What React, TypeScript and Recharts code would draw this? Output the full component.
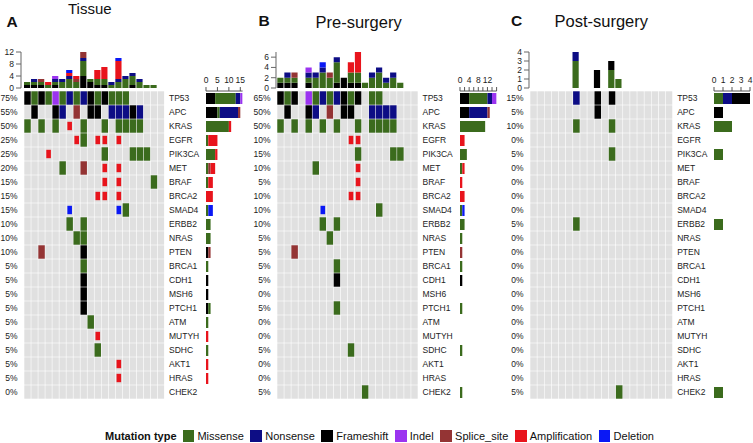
import { BarChart, Bar, XAxis, YAxis, ScatterChart, Scatter } from 'recharts'

// mutation classes, column order used by every count row below: [M, N, F, I, S, A, D]
const TYPES = ['Missense', 'Nonsense', 'Frameshift', 'Indel', 'Splice_site', 'Amplification', 'Deletion']
const CODES = ['M', 'N', 'F', 'I', 'S', 'A', 'D']

const COLORS: Record<string, string> = {
  Missense: '#3b6b1d',
  Nonsense: '#0d0d85',
  Frameshift: '#000000',
  Indel: '#9b34f0',
  Splice_site: '#943434',
  Amplification: '#e8141c',
  Deletion: '#0a18f5',
}

const GENES = [
  'TP53', 'APC', 'KRAS', 'EGFR', 'PIK3CA', 'MET', 'BRAF', 'BRCA2', 'SMAD4', 'ERBB2', 'NRAS',
  'PTEN', 'BRCA1', 'CDH1', 'MSH6', 'PTCH1', 'ATM', 'MUTYH', 'SDHC', 'AKT1', 'HRAS', 'CHEK2',
]

const TISSUE_PCT = [75, 55, 50, 25, 25, 20, 15, 15, 15, 10, 10, 10, 5, 5, 5, 5, 5, 5, 5, 5, 5, 0]
const PRE_PCT = [65, 50, 50, 10, 15, 10, 5, 10, 10, 10, 5, 5, 5, 5, 0, 5, 0, 0, 5, 0, 0, 5]
const POST_PCT = [15, 5, 10, 0, 5, 0, 0, 0, 0, 5, 0, 0, 0, 0, 0, 0, 0, 0, 0, 0, 0, 5]

// one string per gene, one char per sample (20 samples), '.' = no alteration
const TISSUE_GRID = [
  'FMFMIMNMNFMFMMM.....',
  '.F..FN.S.FF.NNNFN...',
  'M.M.M.A.M..M.MMMM...',
  '.......AM.AA.A......',
  '...A.......M...MMM..',
  '.....M..S..A.A......',
  '...........A.A....M.',
  '..........AA.A......',
  '......D......DM.....',
  '......M.M...........',
  '.......MM...........',
  '..S.....F...........',
  '........M...........',
  '........F...........',
  '........F...........',
  '........F...........',
  '.........M..........',
  '..........A.........',
  '..........M.........',
  '.............A......',
  '.............A......',
  '....................',
]

const PRE_GRID = [
  'FMF.IMNMNFMF.MM.....',
  '.F..FN.S.FF..NNNN...',
  'M.M.M.M.M..M.MMMM...',
  '..........AA........',
  '...........M....MM..',
  '.....M.....A........',
  '...........A........',
  '..........AA........',
  '......D.......M.....',
  '......M.M...........',
  '.......M............',
  '..S.................',
  '........M...........',
  '........F...........',
  '....................',
  '........M...........',
  '....................',
  '....................',
  '..........M.........',
  '....................',
  '....................',
  '............M.......',
]

const POST_GRID = [
  '......N..F.F........',
  '.........F..........',
  '......M....M........',
  '....................',
  '...........M........',
  '....................',
  '....................',
  '....................',
  '....................',
  '......M.............',
  '....................',
  '....................',
  '....................',
  '....................',
  '....................',
  '....................',
  '....................',
  '....................',
  '....................',
  '....................',
  '....................',
  '............M.......',
]

// alterations per sample (top bars), [M, N, F, I, S, A, D]
const TISSUE_SAMPLE_COUNTS = [
  [1, 0, 1, 0, 0, 0, 0], [1, 1, 1, 0, 0, 0, 0], [1, 0, 1, 0, 1, 0, 0], [1, 0, 0, 0, 0, 1, 0],
  [1, 1, 1, 1, 0, 0, 0], [2, 1, 0, 0, 0, 0, 0], [3, 1, 0, 0, 0, 1, 1], [2, 0, 0, 0, 1, 1, 0],
  [5, 1, 4, 0, 2, 0, 0], [1, 0, 2, 0, 0, 0, 0], [2, 0, 1, 0, 0, 3, 0], [2, 0, 1, 0, 0, 4, 0],
  [1, 1, 0, 0, 0, 0, 0], [2, 1, 0, 0, 0, 6, 1], [3, 1, 0, 0, 0, 0, 0], [3, 1, 1, 0, 0, 0, 0],
  [2, 1, 0, 0, 0, 0, 0], [1, 0, 0, 0, 0, 0, 0], [1, 0, 0, 0, 0, 0, 0], [0, 0, 0, 0, 0, 0, 0],
]

const PRE_SAMPLE_COUNTS = [
  [1, 0, 1, 0, 0, 0, 0], [1, 1, 1, 0, 0, 0, 0], [1, 0, 1, 0, 1, 0, 0], [0, 0, 0, 0, 0, 0, 0],
  [1, 1, 1, 1, 0, 0, 0], [2, 1, 0, 0, 0, 0, 0], [3, 1, 0, 0, 0, 0, 1], [2, 0, 0, 0, 1, 0, 0],
  [4, 1, 1, 0, 0, 0, 0], [0, 0, 2, 0, 0, 0, 0], [2, 0, 1, 0, 0, 2, 0], [2, 0, 1, 0, 0, 4, 0],
  [1, 0, 0, 0, 0, 0, 0], [2, 1, 0, 0, 0, 0, 0], [3, 1, 0, 0, 0, 0, 0], [1, 1, 0, 0, 0, 0, 0],
  [2, 1, 0, 0, 0, 0, 0], [1, 0, 0, 0, 0, 0, 0], [0, 0, 0, 0, 0, 0, 0], [0, 0, 0, 0, 0, 0, 0],
]

const POST_SAMPLE_COUNTS = [
  [0, 0, 0, 0, 0, 0, 0], [0, 0, 0, 0, 0, 0, 0], [0, 0, 0, 0, 0, 0, 0], [0, 0, 0, 0, 0, 0, 0],
  [0, 0, 0, 0, 0, 0, 0], [0, 0, 0, 0, 0, 0, 0], [3, 1, 0, 0, 0, 0, 0], [0, 0, 0, 0, 0, 0, 0],
  [0, 0, 0, 0, 0, 0, 0], [0, 0, 2, 0, 0, 0, 0], [0, 0, 0, 0, 0, 0, 0], [2, 0, 1, 0, 0, 0, 0],
  [1, 0, 0, 0, 0, 0, 0], [0, 0, 0, 0, 0, 0, 0], [0, 0, 0, 0, 0, 0, 0], [0, 0, 0, 0, 0, 0, 0],
  [0, 0, 0, 0, 0, 0, 0], [0, 0, 0, 0, 0, 0, 0], [0, 0, 0, 0, 0, 0, 0], [0, 0, 0, 0, 0, 0, 0],
]

// alterations per gene (side bars), [M, N, F, I, S, A, D]
const TISSUE_GENE_COUNTS = [
  [9, 2, 4, 1, 0, 0, 0], [1, 8, 5, 0, 1, 0, 0], [10, 0, 0, 0, 0, 1, 0], [1, 0, 0, 0, 0, 4, 0],
  [4, 0, 0, 0, 0, 1, 0], [1, 0, 0, 0, 1, 2, 0], [1, 0, 0, 0, 0, 2, 0], [0, 0, 0, 0, 0, 3, 0],
  [1, 0, 0, 0, 0, 0, 2], [2, 0, 0, 0, 0, 0, 0], [2, 0, 0, 0, 0, 0, 0], [0, 0, 1, 0, 1, 0, 0],
  [1, 0, 0, 0, 0, 0, 0], [0, 0, 1, 0, 0, 0, 0], [0, 0, 1, 0, 0, 0, 0], [1, 0, 1, 0, 0, 0, 0],
  [1, 0, 0, 0, 0, 0, 0], [0, 0, 0, 0, 0, 1, 0], [1, 0, 0, 0, 0, 0, 0], [0, 0, 0, 0, 0, 1, 0],
  [0, 0, 0, 0, 0, 1, 0], [0, 0, 0, 0, 0, 0, 0],
]

const PRE_GENE_COUNTS = [
  [8, 2, 4, 2, 0, 0, 0], [0, 8, 4, 0, 1, 0, 0], [11, 0, 0, 0, 0, 0, 0], [0, 0, 0, 0, 0, 2, 0],
  [3, 0, 0, 0, 0, 0, 0], [1, 0, 0, 0, 0, 1, 0], [0, 0, 0, 0, 0, 1, 0], [0, 0, 0, 0, 0, 2, 0],
  [1, 0, 0, 0, 0, 0, 1], [2, 0, 0, 0, 0, 0, 0], [1, 0, 0, 0, 0, 0, 0], [0, 0, 0, 0, 1, 0, 0],
  [1, 0, 0, 0, 0, 0, 0], [0, 0, 1, 0, 0, 0, 0], [0, 0, 0, 0, 0, 0, 0], [1, 0, 0, 0, 0, 0, 0],
  [0, 0, 0, 0, 0, 0, 0], [0, 0, 0, 0, 0, 0, 0], [1, 0, 0, 0, 0, 0, 0], [0, 0, 0, 0, 0, 0, 0],
  [0, 0, 0, 0, 0, 0, 0], [1, 0, 0, 0, 0, 0, 0],
]

const POST_GENE_COUNTS = [
  [1, 1, 2, 0, 0, 0, 0], [0, 0, 1, 0, 0, 0, 0], [2, 0, 0, 0, 0, 0, 0], [0, 0, 0, 0, 0, 0, 0],
  [1, 0, 0, 0, 0, 0, 0], [0, 0, 0, 0, 0, 0, 0], [0, 0, 0, 0, 0, 0, 0], [0, 0, 0, 0, 0, 0, 0],
  [0, 0, 0, 0, 0, 0, 0], [1, 0, 0, 0, 0, 0, 0], [0, 0, 0, 0, 0, 0, 0], [0, 0, 0, 0, 0, 0, 0],
  [0, 0, 0, 0, 0, 0, 0], [0, 0, 0, 0, 0, 0, 0], [0, 0, 0, 0, 0, 0, 0], [0, 0, 0, 0, 0, 0, 0],
  [0, 0, 0, 0, 0, 0, 0], [0, 0, 0, 0, 0, 0, 0], [0, 0, 0, 0, 0, 0, 0], [0, 0, 0, 0, 0, 0, 0],
  [0, 0, 0, 0, 0, 0, 0], [1, 0, 0, 0, 0, 0, 0],
]

const STACK_AB = ['Frameshift', 'Missense', 'Nonsense', 'Indel', 'Splice_site', 'Amplification', 'Deletion']
const STACK_C = ['Missense', 'Nonsense', 'Frameshift', 'Indel', 'Splice_site', 'Amplification', 'Deletion']

const N_SAMPLES = 20
const GY0 = 90.7
const ROW_H = 14
const TOP_Y0 = 52.3
const TOP_H = 36

const FONT = '"Liberation Sans", Arial, Helvetica, sans-serif'
const TICK = { fontSize: 8.5, fill: '#222', fontFamily: FONT }

const LAYOUTS = [
  { gx0: 24, gx1: 164.5, axisGap: 3, topMax: 12, topTicks: [0, 4, 8, 12], rx0: 205.7, rw: 36.6, rmax: 16, rticks: [0, 5, 10, 15], rfmt: (v: number) => String(v) },
  { gx0: 277.3, gx1: 418.3, axisGap: 1.3, topMax: 7, topTicks: [0, 2, 4, 6], rx0: 460, rw: 36.6, rmax: 16, rticks: [0, 2, 4, 6, 8, 10, 12, 14, 16], rfmt: (v: number) => (v % 4 === 0 && v <= 12 ? String(v) : '') },
  { gx0: 530, gx1: 672.7, axisGap: 0.7, topMax: 4, topTicks: [0, 1, 2, 3, 4], rx0: 714, rw: 36, rmax: 4, rticks: [0, 1, 2, 3, 4], rfmt: (v: number) => String(v) },
]

function toRows(counts: number[][], key: string, labels: (string | number)[]) {
  return counts.map((c, i) => {
    const o: any = { [key]: labels[i] }
    TYPES.forEach((t, k) => { o[t] = c[k] })
    return o
  })
}

function TopBars({ counts, order, L }: any) {
  const yW = 22
  const mt = 6
  const mb = 6
  const data = toRows(counts, 's', counts.map((_: any, i: number) => i))
  return (
    <div style={{ position: 'absolute', left: L.gx0 - L.axisGap - yW, top: TOP_Y0 - mt }}>
      <BarChart width={yW + L.axisGap + (L.gx1 - L.gx0)} height={mt + TOP_H + mb} data={data}
        margin={{ top: mt, right: 0, bottom: mb, left: 0 }} barCategoryGap={0}>
        <XAxis dataKey="s" hide padding={{ left: L.axisGap, right: 0 }} />
        <YAxis width={yW} domain={[0, L.topMax]} ticks={L.topTicks} interval={0} allowDataOverflow
          tick={TICK} tickSize={5} tickMargin={2} stroke="#666" />
        {order.map((t: string) => (
          <Bar key={t} dataKey={t} stackId="s" fill={COLORS[t]} barSize={6.2} isAnimationActive={false} />
        ))}
      </BarChart>
    </div>
  )
}

function Grid({ rows, pct, L }: any) {
  const leftW = 24
  const rightW = 45
  const gw = L.gx1 - L.gx0
  const cw = gw / N_SAMPLES
  const idx = GENES.map((_, i) => i)

  const bg: any[] = []
  GENES.forEach((_, r) => { for (let c = 0; c < N_SAMPLES; c++) bg.push({ x: c, y: r }) })

  const cells = CODES.map((code) =>
    rows.flatMap((row: string, r: number) =>
      row.split('').map((ch, c) => (ch === code ? { x: c, y: r } : null)).filter(Boolean)))

  const full = (fill: string) => (p: any) => (
    <rect x={p.cx - cw / 2 + 0.3} y={p.cy - ROW_H / 2 + 0.3} width={cw - 0.6} height={ROW_H - 0.6} fill={fill} />
  )
  const small = (fill: string) => (p: any) => (
    <rect x={p.cx - 2.3} y={p.cy - 4.2} width={4.6} height={8.4} fill={fill} />
  )

  return (
    <div style={{ position: 'absolute', left: L.gx0 - leftW, top: GY0 }}>
      <ScatterChart width={leftW + gw + rightW} height={ROW_H * GENES.length} margin={{ top: 0, right: 0, bottom: 0, left: 0 }}>
        <XAxis type="number" dataKey="x" domain={[-0.5, N_SAMPLES - 0.5]} hide allowDataOverflow />
        <YAxis yAxisId="p" type="number" dataKey="y" domain={[-0.5, GENES.length - 0.5]} reversed allowDataOverflow
          ticks={idx} interval={0} width={leftW} axisLine={false} tickLine={false} tickSize={0} tickMargin={6.5}
          tick={TICK} tickFormatter={(v: number) => `${pct[v]}%`} />
        <YAxis yAxisId="g" orientation="right" type="number" dataKey="y" domain={[-0.5, GENES.length - 0.5]} reversed allowDataOverflow
          ticks={idx} interval={0} width={rightW} axisLine={false} tickLine={false} tickSize={0} tickMargin={4.5}
          tick={TICK} tickFormatter={(v: number) => GENES[v]} />
        <Scatter yAxisId="p" data={bg} shape={full('#e0e0e0')} isAnimationActive={false} />
        <Scatter yAxisId="g" data={bg} shape={() => <g />} isAnimationActive={false} />
        {TYPES.map((t, k) => (
          <Scatter key={t} yAxisId="p" data={cells[k]} isAnimationActive={false}
            shape={t === 'Amplification' || t === 'Deletion' ? small(COLORS[t]) : full(COLORS[t])} />
        ))}
      </ScatterChart>
    </div>
  )
}

function SideBars({ counts, order, L }: any) {
  const xh = 18
  const ml = 5
  const mr = 8
  const data = toRows(counts, 'g', GENES)
  return (
    <div style={{ position: 'absolute', left: L.rx0 - ml, top: GY0 - xh }}>
      <BarChart layout="vertical" width={ml + L.rw + mr} height={xh + ROW_H * GENES.length} data={data}
        margin={{ top: 0, right: mr, bottom: 0, left: ml }}>
        <XAxis type="number" orientation="top" domain={[0, L.rmax]} ticks={L.rticks} interval={0} allowDataOverflow
          height={xh} tick={TICK} tickSize={4} tickMargin={4} stroke="#555" tickFormatter={L.rfmt} />
        <YAxis type="category" dataKey="g" hide />
        {order.map((t: string) => (
          <Bar key={t} dataKey={t} stackId="s" fill={COLORS[t]} barSize={11} isAnimationActive={false} />
        ))}
      </BarChart>
    </div>
  )
}

function Panel({ grid, pct, sampleCounts, geneCounts, order, L }: any) {
  return (
    <>
      <TopBars counts={sampleCounts} order={order} L={L} />
      <Grid rows={grid} pct={pct} L={L} />
      <SideBars counts={geneCounts} order={order} L={L} />
    </>
  )
}

export default function App() {
  const titleFont = '"Liberation Sans", Arial, sans-serif'
  return (
    <div style={{ position: 'absolute', left: 0, top: 0, width: 753, height: 443, background: '#fff', overflow: 'hidden', fontFamily: FONT }}>
      <svg width={753} height={443} style={{ position: 'absolute', left: 0, top: 0 }}>
        <text x={6.5} y={26.5} fontSize={15.5} fontWeight="bold" fontFamily={FONT} fill="#111">A</text>
        <text x={68} y={14} fontSize={15} fontFamily={titleFont} fill="#111">Tissue</text>
        <text x={258.5} y={25.5} fontSize={15.5} fontWeight="bold" fontFamily={FONT} fill="#111">B</text>
        <text x={315.5} y={28.3} fontSize={16.5} fontFamily={titleFont} fill="#111">Pre-surgery</text>
        <text x={511} y={25.5} fontSize={15.5} fontWeight="bold" fontFamily={FONT} fill="#111">C</text>
        <text x={554.5} y={26.5} fontSize={16.5} fontFamily={titleFont} fill="#111">Post-surgery</text>
      </svg>

      <Panel grid={TISSUE_GRID} pct={TISSUE_PCT} sampleCounts={TISSUE_SAMPLE_COUNTS} geneCounts={TISSUE_GENE_COUNTS} order={STACK_AB} L={LAYOUTS[0]} />
      <Panel grid={PRE_GRID} pct={PRE_PCT} sampleCounts={PRE_SAMPLE_COUNTS} geneCounts={PRE_GENE_COUNTS} order={STACK_AB} L={LAYOUTS[1]} />
      <Panel grid={POST_GRID} pct={POST_PCT} sampleCounts={POST_SAMPLE_COUNTS} geneCounts={POST_GENE_COUNTS} order={STACK_C} L={LAYOUTS[2]} />

      {/* legend */}
      <div style={{ position: 'absolute', left: 105, top: 430, display: 'flex', alignItems: 'center', fontSize: 11, lineHeight: '12px', whiteSpace: 'nowrap', color: '#111' }}>
        <span style={{ fontWeight: 'bold', marginRight: 6 }}>Mutation type</span>
        {TYPES.map((t) => (
          <span key={t} style={{ display: 'flex', alignItems: 'center', marginRight: 6.6 }}>
            <span style={{ display: 'inline-block', width: 11.7, height: 11.7, background: COLORS[t], marginRight: 3.2 }} />
            {t}
          </span>
        ))}
      </div>
    </div>
  )
}
